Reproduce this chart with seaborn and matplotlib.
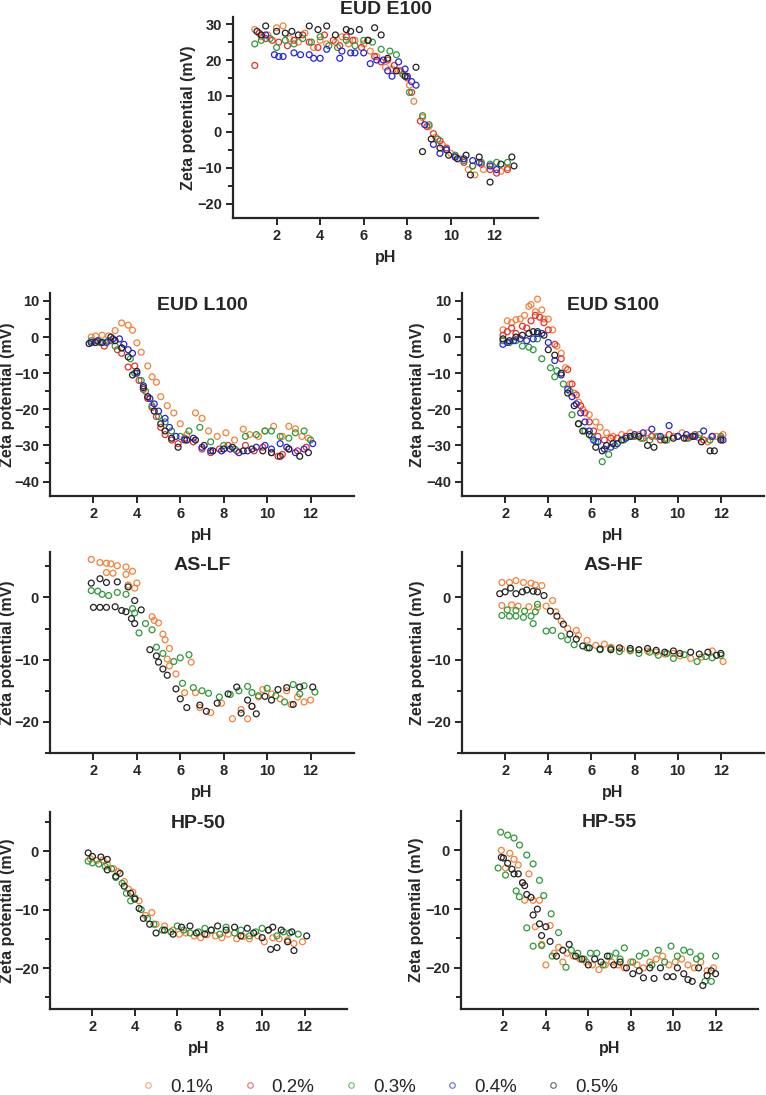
import pandas as pd
import matplotlib
matplotlib.use('Agg')
import matplotlib.pyplot as plt
from matplotlib.lines import Line2D
import seaborn as sns

# concentrations and colours
conc_labels = ['0.1%', '0.2%', '0.3%', '0.4%', '0.5%']
conc_colors = ['#F5813A', '#E8302A', '#2E9A3A', '#2626D9', '#222222']

# ---------------- EUD E100 ----------------
e100_x_01 = [1.0, 1.3, 1.6, 2.0, 2.3, 2.6, 3.0, 3.3, 3.7, 4.0, 4.3, 4.7, 5.0, 5.3, 5.6, 6.0, 6.3, 6.6, 7.0, 7.3, 7.6, 7.9, 8.1, 8.3, 8.7, 9.0, 9.3, 9.6, 10.0, 10.4, 10.8, 11.1, 11.5, 11.9, 12.3, 12.6]
e100_y_01 = [28.5, 26.5, 27.0, 29.0, 29.5, 26.0, 25.0, 27.5, 23.5, 25.5, 24.5, 25.0, 26.5, 24.5, 25.5, 24.5, 22.5, 21.0, 18.0, 17.5, 17.0, 15.5, 13.0, 8.5, 4.0, 1.5, -1.5, -3.5, -6.0, -7.5, -10.5, -12.0, -10.5, -9.5, -11.0, -10.0]
e100_x_02 = [1.0, 1.2, 1.5, 1.8, 2.1, 2.5, 2.8, 3.2, 3.5, 3.9, 4.2, 4.6, 4.9, 5.2, 5.5, 5.9, 6.2, 6.5, 6.8, 7.1, 7.4, 7.7, 8.0, 8.2, 8.6, 8.9, 9.2, 9.5, 9.8, 10.2, 10.6, 11.0, 11.4, 11.8, 12.1, 12.6]
e100_y_02 = [18.5, 27.5, 26.0, 25.5, 25.0, 24.0, 25.5, 27.0, 25.0, 23.5, 27.0, 25.5, 24.0, 26.5, 25.5, 23.5, 25.5, 21.0, 19.5, 20.0, 18.5, 17.0, 15.0, 11.0, 3.0, 1.5, -0.5, -2.5, -4.5, -7.0, -8.5, -9.5, -9.0, -10.5, -11.5, -10.5]
e100_x_03 = [1.0, 1.3, 1.7, 2.0, 2.4, 2.8, 3.2, 3.6, 4.0, 4.4, 4.8, 5.2, 5.6, 6.0, 6.4, 6.8, 7.2, 7.5, 7.8, 8.1, 8.7, 9.0, 9.4, 9.8, 10.2, 10.6, 11.0, 11.4, 11.8, 12.1, 12.6]
e100_y_03 = [24.5, 25.5, 26.0, 23.5, 25.5, 24.5, 26.0, 25.0, 26.5, 24.0, 23.5, 25.5, 24.0, 25.5, 25.0, 23.0, 22.5, 21.5, 16.0, 11.0, 4.5, 2.0, -2.0, -5.0, -6.5, -8.0, -9.5, -8.5, -9.0, -8.5, -8.5]
e100_x_04 = [1.5, 1.9, 2.1, 2.3, 2.8, 3.1, 3.5, 3.7, 4.0, 4.3, 4.9, 5.0, 5.4, 5.6, 6.0, 6.3, 6.6, 6.9, 7.1, 7.3, 7.6, 7.9, 8.0, 8.2, 8.4, 8.8, 9.2, 9.5, 9.8, 10.2, 10.6, 11.0, 11.3, 11.8, 12.1]
e100_y_04 = [27.0, 21.5, 21.0, 21.0, 22.0, 21.5, 21.5, 20.5, 20.5, 23.0, 20.5, 22.5, 22.0, 22.0, 22.0, 19.0, 20.0, 20.0, 17.0, 15.5, 19.5, 17.5, 15.5, 14.0, 13.0, 2.0, -3.5, -6.0, -5.0, -7.0, -7.5, -8.0, -8.5, -9.5, -10.5]
e100_x_05 = [1.1, 1.3, 1.5, 2.0, 2.4, 2.7, 3.0, 3.5, 3.9, 4.3, 4.7, 5.2, 5.4, 5.8, 6.2, 6.5, 6.8, 7.1, 7.5, 7.9, 8.4, 8.7, 9.1, 9.5, 9.9, 10.3, 10.7, 10.9, 11.3, 11.8, 12.3, 12.8, 12.9]
e100_y_05 = [28.0, 27.0, 29.5, 28.0, 27.5, 28.0, 27.0, 29.5, 28.5, 29.5, 27.0, 28.5, 28.0, 28.5, 25.5, 29.0, 27.0, 20.5, 17.0, 15.5, 18.0, -5.5, -2.0, -4.5, -6.5, -7.5, -6.5, -12.0, -7.0, -14.0, -9.0, -7.0, -9.5]

# ---------------- EUD L100 ----------------
l100_x_01 = [1.9, 2.1, 2.4, 2.7, 3.0, 3.3, 3.6, 3.8, 4.0, 4.2, 4.5, 4.7, 4.9, 5.1, 5.4, 5.7, 6.0, 6.3, 6.7, 7.0, 7.3, 7.7, 8.1, 8.5, 8.9, 9.2, 9.6, 9.9, 10.3, 10.7, 11.0, 11.3, 11.6, 11.9]
l100_y_01 = [0.0, 0.3, 0.5, 0.3, 1.8, 3.9, 3.3, 1.9, -1.6, -4.2, -8.0, -11.0, -12.5, -16.5, -19.0, -21.0, -24.0, -27.0, -21.0, -22.5, -26.0, -27.5, -26.5, -28.5, -25.5, -27.0, -27.5, -26.0, -24.7, -27.5, -24.7, -25.4, -27.5, -28.0]
l100_x_02 = [1.9, 2.2, 2.5, 2.8, 3.1, 3.3, 3.6, 3.9, 4.1, 4.3, 4.5, 4.7, 4.9, 5.1, 5.3, 5.6, 5.9, 6.2, 6.6, 7.0, 7.4, 7.8, 8.2, 8.6, 9.0, 9.4, 9.8, 10.2, 10.5, 10.7, 11.0, 11.4, 11.8]
l100_y_02 = [-1.5, -1.2, -2.5, -1.0, -3.5, -4.5, -8.3, -8.0, -12.0, -14.5, -17.0, -19.5, -22.0, -25.0, -27.0, -28.5, -29.5, -28.0, -29.0, -31.0, -32.0, -31.0, -30.0, -31.5, -30.0, -31.5, -30.5, -32.0, -33.0, -32.5, -31.0, -31.5, -30.5]
l100_x_03 = [1.9, 2.3, 2.7, 3.0, 3.3, 3.7, 3.9, 4.2, 4.4, 4.7, 5.0, 5.3, 5.6, 6.0, 6.4, 6.9, 7.4, 8.0, 8.5, 9.0, 9.5, 9.9, 10.2, 10.6, 11.0, 11.3, 11.7, 12.0]
l100_y_03 = [-1.0, -1.5, -1.0, -2.5, -3.0, -6.0, -10.0, -12.0, -15.0, -19.0, -22.0, -23.5, -26.0, -27.5, -26.0, -25.0, -29.0, -30.0, -31.0, -27.5, -27.0, -26.0, -26.0, -27.5, -28.0, -26.5, -26.0, -28.5]
l100_x_04 = [1.9, 2.2, 2.6, 2.9, 3.2, 3.4, 3.6, 3.8, 4.0, 4.3, 4.6, 4.8, 5.0, 5.3, 5.5, 5.8, 6.2, 6.6, 7.0, 7.4, 7.9, 8.3, 8.7, 9.1, 9.5, 9.9, 10.2, 10.6, 10.9, 11.3, 11.7, 12.1]
l100_y_04 = [-1.5, -1.0, -1.5, -0.5, -0.5, -2.0, -3.5, -4.5, -10.0, -13.5, -17.0, -18.5, -20.5, -22.5, -25.0, -27.5, -28.5, -28.0, -30.5, -31.5, -31.5, -31.0, -32.0, -31.5, -30.5, -30.0, -31.0, -29.5, -30.5, -32.0, -31.0, -29.5]
l100_x_05 = [1.8, 2.1, 2.4, 2.8, 3.0, 3.3, 3.6, 3.8, 4.0, 4.3, 4.5, 4.8, 5.1, 5.3, 5.6, 5.9, 6.3, 6.7, 7.1, 7.5, 8.0, 8.4, 8.9, 9.3, 9.8, 10.2, 10.6, 11.0, 11.5, 11.9]
l100_y_05 = [-1.8, -1.5, -1.5, 0.0, -1.0, -3.0, -5.5, -10.5, -9.5, -14.0, -16.5, -20.5, -24.0, -26.0, -28.0, -30.5, -28.5, -28.5, -30.0, -31.5, -31.0, -30.5, -31.5, -31.0, -31.5, -32.0, -33.0, -31.0, -33.0, -32.0]

# ---------------- EUD S100 ----------------
s100_x_01 = [1.9, 2.1, 2.3, 2.5, 2.7, 2.9, 3.1, 3.2, 3.4, 3.5, 3.7, 3.8, 4.0, 4.2, 4.4, 4.6, 4.8, 5.0, 5.2, 5.4, 5.6, 5.9, 6.2, 6.4, 6.7, 7.0, 7.4, 7.8, 8.2, 8.6, 9.0, 9.4, 9.8, 10.2, 10.6, 11.0, 11.4, 11.8, 12.1]
s100_y_01 = [2.0, 4.5, 4.0, 4.8, 5.0, 6.0, 8.5, 9.0, 7.0, 10.5, 7.5, 5.0, 5.0, 2.0, -2.5, -4.5, -8.5, -13.0, -15.5, -18.0, -20.0, -21.5, -23.5, -25.0, -26.5, -27.5, -27.0, -26.5, -27.0, -26.5, -27.5, -28.0, -27.5, -26.5, -27.5, -28.0, -29.0, -27.5, -27.0]
s100_x_02 = [1.9, 2.1, 2.3, 2.5, 2.8, 3.0, 3.2, 3.4, 3.6, 3.8, 4.0, 4.3, 4.6, 4.9, 5.1, 5.3, 5.5, 5.7, 5.9, 6.1, 6.3, 6.6, 6.9, 7.2, 7.6, 8.0, 8.4, 8.8, 9.2, 9.6, 10.0, 10.4, 10.8, 11.2, 11.6, 12.0]
s100_y_02 = [0.5, 1.5, 2.5, 1.0, 3.0, 2.5, 4.5, 6.0, 5.5, 4.0, 2.0, -2.0, -6.0, -9.0, -13.0, -16.0, -19.0, -21.0, -23.5, -26.0, -27.5, -28.5, -28.0, -28.0, -27.5, -27.5, -28.0, -27.5, -28.5, -27.0, -27.5, -28.0, -27.0, -28.5, -27.5, -28.0]
s100_x_03 = [1.9, 2.2, 2.5, 2.8, 3.1, 3.3, 3.5, 3.7, 4.1, 4.3, 4.4, 4.7, 5.0, 5.1, 5.4, 5.7, 6.0, 6.2, 6.5, 6.8, 7.1, 7.5, 7.9, 8.3, 8.7, 9.1, 9.5, 10.0, 10.5, 11.0, 11.5, 12.0]
s100_y_03 = [-1.0, -1.5, -1.0, -2.5, -2.8, -3.5, -0.5, -6.0, -8.5, -11.0, -9.3, -13.0, -15.0, -21.5, -24.0, -26.0, -27.5, -29.0, -34.5, -32.5, -30.0, -28.5, -27.5, -28.0, -28.5, -27.5, -28.5, -27.5, -28.0, -27.0, -28.5, -27.5]
s100_x_04 = [1.9, 2.1, 2.4, 2.7, 3.0, 3.3, 3.5, 3.7, 4.0, 4.3, 4.6, 4.9, 5.1, 5.3, 5.5, 5.7, 5.9, 6.1, 6.3, 6.6, 6.9, 7.2, 7.6, 8.0, 8.4, 8.8, 9.2, 9.6, 10.0, 10.4, 10.8, 11.2, 11.6, 12.1]
s100_y_04 = [-2.0, -1.5, -1.0, -0.5, -1.0, -0.5, 1.0, 1.0, -1.5, -6.5, -10.5, -14.5, -16.5, -18.5, -21.0, -23.5, -26.0, -28.5, -29.0, -31.0, -30.5, -29.5, -28.0, -27.0, -26.5, -25.5, -27.5, -24.5, -27.5, -27.0, -27.5, -26.0, -27.5, -28.5]
s100_x_05 = [1.9, 2.2, 2.5, 2.8, 3.1, 3.3, 3.5, 3.8, 4.0, 4.3, 4.6, 4.9, 5.2, 5.4, 5.6, 5.9, 6.2, 6.5, 6.7, 7.0, 7.4, 7.8, 8.2, 8.6, 8.9, 9.4, 9.8, 10.3, 10.7, 11.1, 11.5, 11.7, 12.0]
s100_y_05 = [-0.5, -1.0, 0.0, 0.5, 1.0, 1.5, 1.5, 0.5, -3.5, -5.0, -10.0, -15.5, -19.0, -24.0, -26.0, -27.0, -30.5, -31.5, -30.0, -29.5, -28.5, -27.5, -27.5, -30.0, -30.5, -28.5, -28.0, -28.0, -27.5, -29.0, -31.5, -31.5, -28.5]

# ---------------- AS-LF ----------------
aslf_x_01 = [1.9, 2.3, 2.6, 2.8, 3.1, 3.5, 3.8, 2.6, 2.9, 3.5, 4.0, 3.9, 3.6, 4.7, 4.8, 5.0, 5.2, 5.3, 5.5, 5.4, 5.5, 6.5, 5.8, 6.2, 6.7, 6.9, 7.4, 7.9, 8.4, 8.8, 9.1, 9.3, 9.6, 9.8, 10.2, 10.6, 10.9, 11.1, 11.4, 11.7, 12.0]
aslf_y_01 = [6.1, 5.6, 5.5, 5.4, 5.1, 4.9, 4.2, 4.0, 3.9, 3.7, 2.3, 1.5, 2.0, -3.1, -3.7, -4.1, -5.9, -6.8, -8.2, -9.9, -11.0, -10.4, -12.3, -15.3, -15.3, -17.7, -18.5, -17.0, -19.5, -18.0, -19.5, -17.5, -16.0, -14.8, -15.5, -16.3, -15.0, -17.2, -16.0, -16.8, -16.5]
aslf_x_03 = [1.9, 2.2, 2.4, 2.7, 3.1, 3.5, 3.8, 3.9, 4.1, 4.4, 4.7, 4.9, 5.2, 5.7, 6.0, 6.4, 6.1, 6.6, 7.0, 7.3, 7.8, 8.3, 8.7, 9.1, 9.3, 9.6, 10.0, 10.4, 10.8, 11.2, 11.5, 11.7, 12.2]
aslf_y_03 = [1.1, 1.0, 0.5, 0.3, 0.8, 0.5, -1.8, -2.5, -5.7, -4.2, -5.2, -8.0, -9.0, -10.3, -9.7, -9.2, -13.8, -14.5, -15.0, -15.4, -16.0, -15.6, -15.0, -14.3, -15.3, -15.8, -14.6, -15.8, -16.8, -14.0, -15.5, -14.2, -15.2]
aslf_x_05 = [1.9, 2.0, 2.3, 2.3, 2.6, 2.6, 3.0, 3.1, 3.3, 3.5, 3.6, 3.9, 4.2, 3.75, 3.9, 4.6, 4.9, 5.0, 5.2, 5.4, 5.8, 6.0, 6.3, 6.9, 7.2, 7.7, 8.2, 8.6, 8.8, 9.1, 9.3, 9.5, 9.9, 10.2, 10.5, 10.9, 11.2, 11.5, 12.1]
aslf_y_05 = [2.3, -1.6, -1.6, 3.0, -1.6, 2.4, -1.5, 2.5, -2.1, -2.3, 1.7, -0.5, -2.0, -3.4, -4.2, -8.4, -9.4, -10.4, -11.5, -12.5, -14.7, -16.3, -17.7, -17.3, -18.3, -17.0, -15.5, -14.4, -18.6, -16.5, -17.5, -18.7, -15.9, -16.5, -14.8, -14.5, -17.2, -14.4, -14.4]

# ---------------- AS-HF ----------------
ashf_x_01 = [1.85, 2.2, 2.5, 2.85, 3.2, 3.4, 3.7, 1.85, 2.3, 2.6, 3.1, 3.5, 3.9, 4.2, 4.35, 4.6, 4.9, 5.3, 5.4, 5.8, 6.2, 6.6, 6.9, 7.4, 7.8, 8.2, 8.6, 9.0, 9.4, 9.8, 10.1, 10.6, 11.1, 11.6, 12.1]
ashf_y_01 = [2.4, 2.4, 2.7, 2.4, 2.3, 2.0, 1.9, -1.3, -1.2, -1.4, -1.5, -1.6, -1.4, -0.5, -2.3, -3.8, -5.0, -5.3, -6.1, -6.9, -7.7, -7.5, -8.0, -8.3, -8.6, -8.4, -8.6, -8.8, -9.1, -9.0, -9.4, -9.8, -9.6, -8.6, -10.3]
ashf_x_03 = [1.85, 2.1, 2.2, 2.5, 2.5, 2.85, 2.9, 3.2, 3.4, 3.5, 3.3, 3.9, 4.2, 4.6, 4.9, 5.2, 5.8, 6.4, 6.9, 7.3, 7.8, 8.2, 8.7, 9.1, 9.5, 9.8, 10.3, 10.9, 11.3, 11.6, 12.0]
ashf_y_03 = [-2.9, -2.0, -3.0, -3.0, -2.1, -3.2, -2.2, -3.0, -2.3, -1.1, -4.2, -5.4, -5.3, -6.2, -6.8, -7.6, -8.1, -8.4, -8.2, -8.7, -8.5, -9.0, -8.8, -9.3, -9.0, -9.8, -9.2, -10.3, -9.5, -9.7, -9.3]
ashf_x_05 = [1.75, 2.0, 2.25, 2.5, 2.8, 3.0, 3.3, 3.5, 3.8, 4.1, 4.4, 4.7, 5.0, 5.3, 5.6, 5.9, 6.4, 6.9, 7.3, 7.8, 8.2, 8.6, 9.0, 9.4, 9.8, 10.1, 10.6, 11.0, 11.4, 11.8, 12.0]
ashf_y_05 = [0.6, 0.9, 1.5, 0.6, 0.9, 1.2, 1.0, 0.9, 0.3, -2.2, -3.0, -4.3, -5.9, -6.7, -7.8, -8.1, -8.3, -8.4, -8.1, -8.2, -8.4, -8.2, -8.5, -8.8, -8.6, -9.0, -8.8, -9.1, -8.8, -9.3, -9.0]

# ---------------- HP-50 ----------------
hp50_x_01 = [1.9, 2.2, 2.5, 2.7, 3.0, 3.2, 3.5, 3.7, 3.9, 4.2, 4.5, 4.8, 5.0, 5.4, 5.8, 6.1, 6.4, 6.8, 7.1, 7.4, 7.8, 8.1, 8.4, 8.8, 9.1, 9.4, 9.8, 10.1, 10.5, 10.8, 11.2, 11.5, 11.9]
hp50_y_01 = [-1.3, -1.6, -1.5, -2.2, -3.0, -3.5, -5.2, -6.5, -7.0, -8.5, -11.0, -10.5, -12.5, -12.8, -13.5, -14.2, -14.0, -14.5, -14.8, -14.3, -14.5, -14.8, -14.2, -15.0, -14.6, -15.0, -14.5, -15.5, -14.8, -15.0, -15.2, -15.8, -15.5]
hp50_x_03 = [1.8, 2.0, 2.3, 2.6, 2.9, 3.1, 3.4, 3.6, 3.8, 4.0, 4.3, 4.6, 4.9, 5.3, 5.7, 6.0, 6.3, 6.6, 7.0, 7.3, 7.6, 8.0, 8.3, 8.7, 9.0, 9.4, 9.7, 10.0, 10.3, 10.7, 11.0, 11.3, 11.7]
hp50_y_03 = [-1.7, -2.0, -2.2, -2.6, -3.0, -4.5, -5.5, -7.2, -8.5, -8.0, -10.0, -11.5, -12.5, -13.5, -13.8, -12.8, -13.5, -14.0, -13.8, -13.2, -13.5, -14.2, -13.0, -14.0, -13.5, -14.5, -13.8, -13.2, -13.5, -14.5, -13.8, -14.0, -14.2]
hp50_x_05 = [1.8, 2.0, 2.4, 2.7, 2.7, 3.1, 3.3, 3.5, 3.8, 4.0, 4.2, 4.4, 4.7, 5.0, 5.4, 5.8, 6.2, 6.6, 6.9, 7.3, 7.6, 7.9, 8.3, 8.7, 9.0, 9.3, 9.6, 10.0, 10.3, 10.4, 10.5, 10.7, 10.9, 11.2, 11.4, 11.5, 12.1]
hp50_y_05 = [-0.3, -0.9, -1.0, -1.4, -3.2, -4.3, -3.8, -6.0, -7.2, -8.2, -9.8, -11.5, -12.5, -14.0, -13.5, -14.2, -13.0, -12.8, -14.0, -14.2, -13.5, -12.8, -13.5, -13.0, -14.5, -13.2, -14.0, -14.8, -13.5, -16.8, -13.0, -16.5, -13.5, -15.5, -13.8, -17.0, -14.5]

# ---------------- HP-55 ----------------
hp55_x_01 = [1.9, 2.1, 2.3, 2.5, 2.7, 2.9, 3.0, 3.2, 3.4, 3.5, 3.7, 3.8, 4.0, 4.2, 4.4, 4.6, 4.8, 5.0, 5.3, 5.6, 5.9, 6.2, 6.5, 6.8, 7.1, 7.4, 7.7, 8.0, 8.3, 8.6, 8.9, 9.2, 9.5, 9.8, 10.1, 10.4, 10.7, 11.0, 11.3, 11.6, 11.9]
hp55_y_01 = [0.0, -3.0, -0.5, -1.5, -2.5, -5.5, -8.5, -4.0, -8.5, -13.0, -8.5, -16.0, -19.5, -12.8, -17.5, -16.5, -19.0, -17.5, -18.0, -18.5, -19.0, -19.5, -20.3, -19.5, -19.0, -19.5, -20.0, -19.0, -19.5, -20.0, -19.0, -18.5, -18.0, -19.5, -19.0, -18.5, -19.5, -20.0, -19.0, -20.5, -20.0]
hp55_x_03 = [1.75, 1.87, 2.1, 2.2, 2.5, 2.6, 2.75, 2.76, 3.1, 3.1, 3.4, 3.4, 3.7, 3.8, 3.9, 4.25, 4.6, 4.3, 4.95, 5.2, 5.5, 5.8, 6.1, 6.4, 6.7, 7.0, 7.3, 7.5, 7.7, 8.1, 8.4, 8.7, 9.0, 9.3, 9.6, 9.9, 10.2, 10.5, 10.8, 11.1, 11.3, 11.5, 11.8, 12.0]
hp55_y_03 = [-3.0, 3.1, -4.2, 2.6, 2.1, -6.9, -7.9, 0.9, -0.8, -13.2, -2.3, -16.3, -5.1, -16.2, -7.7, -10.8, -14.0, -18.0, -19.9, -17.0, -17.5, -18.5, -17.5, -17.5, -19.5, -18.0, -17.5, -18.5, -16.6, -19.0, -18.0, -17.5, -19.5, -17.0, -19.0, -16.3, -18.0, -17.0, -17.3, -18.5, -18.0, -22.3, -22.3, -18.0]
hp55_x_05 = [1.9, 2.0, 2.2, 2.4, 2.5, 2.7, 2.9, 3.0, 3.1, 3.3, 3.4, 3.6, 3.7, 3.8, 4.0, 4.2, 4.5, 4.8, 5.1, 5.4, 5.7, 6.0, 6.3, 6.6, 6.9, 7.2, 7.5, 7.8, 8.1, 8.4, 8.6, 8.9, 9.1, 9.4, 9.7, 10.0, 10.2, 10.5, 10.7, 10.9, 11.2, 11.4, 11.6, 11.8, 12.0]
hp55_y_05 = [-1.2, -1.3, -2.2, -3.2, -4.0, -4.0, -5.5, -6.0, -7.5, -8.0, -11.0, -10.0, -12.5, -14.5, -13.0, -15.5, -18.0, -17.0, -16.0, -18.0, -18.5, -19.5, -18.5, -19.0, -18.0, -19.5, -19.0, -20.0, -21.0, -20.5, -21.7, -20.0, -21.8, -20.0, -21.5, -21.5, -20.0, -21.0, -22.0, -22.3, -20.0, -23.0, -21.3, -20.5, -21.0]

sns.set_style('ticks')
plt.rcParams['font.family'] = ['Liberation Sans', 'DejaVu Sans']

W, H = 766, 1095
fig = plt.figure(figsize=(W / 100, H / 100), dpi=100)


def add_axes_px(left, right, top, bottom):
    return fig.add_axes([left / W, 1 - bottom / H, (right - left) / W, (bottom - top) / H])


def draw_panel(ax, series, title, ylim, major, minor, title_y, ylab_x):
    frames = []
    for label, xs, ys in series:
        frames.append(pd.DataFrame({'pH': xs, 'zeta': ys, 'conc': label}))
    df = pd.concat(frames, ignore_index=True)
    pal = {l: c for l, c in zip(conc_labels, conc_colors)}
    sns.scatterplot(data=df, x='pH', y='zeta', hue='conc', palette=pal,
                    s=18, linewidth=0.9, legend=False, ax=ax)
    # open circles
    pts = ax.collections[-1]
    pts.set_edgecolors(pts.get_facecolors())
    pts.set_facecolors('none')

    ax.set_xlim(0, 14)
    ax.set_ylim(*ylim)
    ax.set_xticks(range(2, 13, 2))
    ax.set_yticks(major)
    ax.set_yticks(minor, minor=True)
    for s in ['top', 'right']:
        ax.spines[s].set_visible(False)
    for s in ['left', 'bottom']:
        ax.spines[s].set_linewidth(1.6)
    ax.tick_params(axis='both', which='major', length=5, width=1.4, labelsize=10.5, pad=3)
    ax.tick_params(axis='y', which='minor', length=3.5, width=1.4)
    for lab in ax.get_xticklabels() + ax.get_yticklabels():
        lab.set_fontweight('bold')
    ax.set_xlabel('pH', fontsize=11.5, fontweight='bold', labelpad=5)
    ax.set_ylabel('Zeta potential (mV)', fontsize=11.5, fontweight='bold')
    ax.yaxis.set_label_coords(ylab_x, 0.5)
    ax.text(0.5, title_y, title, transform=ax.transAxes, ha='center', va='center',
            fontsize=14, fontweight='bold')


# EUD E100
ax = add_axes_px(233, 538, 17, 218)
draw_panel(ax, [('0.1%', e100_x_01, e100_y_01), ('0.2%', e100_x_02, e100_y_02),
                ('0.3%', e100_x_03, e100_y_03), ('0.4%', e100_x_04, e100_y_04),
                ('0.5%', e100_x_05, e100_y_05)],
           'EUD E100', (-24, 32), range(-20, 31, 10), range(-15, 30, 10), 1.035, -0.12)

# EUD L100 / S100
ax = add_axes_px(50, 354, 293, 496)
draw_panel(ax, [('0.1%', l100_x_01, l100_y_01), ('0.2%', l100_x_02, l100_y_02),
                ('0.3%', l100_x_03, l100_y_03), ('0.4%', l100_x_04, l100_y_04),
                ('0.5%', l100_x_05, l100_y_05)],
           'EUD L100', (-44, 12.2), range(-40, 11, 10), range(-35, 10, 10), 0.94, -0.115)
ax = add_axes_px(462, 764, 293, 496)
draw_panel(ax, [('0.1%', s100_x_01, s100_y_01), ('0.2%', s100_x_02, s100_y_02),
                ('0.3%', s100_x_03, s100_y_03), ('0.4%', s100_x_04, s100_y_04),
                ('0.5%', s100_x_05, s100_y_05)],
           'EUD S100', (-44, 12.2), range(-40, 11, 10), range(-35, 10, 10), 0.94, -0.123)

# AS-LF / AS-HF
ax = add_axes_px(50, 354, 552, 753)
draw_panel(ax, [('0.1%', aslf_x_01, aslf_y_01), ('0.3%', aslf_x_03, aslf_y_03),
                ('0.5%', aslf_x_05, aslf_y_05)],
           'AS-LF', (-25, 7.3), [-20, -10, 0], [-25, -15, -5, 5], 0.935, -0.115)
ax = add_axes_px(462, 764, 552, 753)
draw_panel(ax, [('0.1%', ashf_x_01, ashf_y_01), ('0.3%', ashf_x_03, ashf_y_03),
                ('0.5%', ashf_x_05, ashf_y_05)],
           'AS-HF', (-25, 7.3), [-20, -10, 0], [-25, -15, -5, 5], 0.935, -0.123)

# HP-50 / HP-55
ax = add_axes_px(50, 347, 812, 1009)
draw_panel(ax, [('0.1%', hp50_x_01, hp50_y_01), ('0.3%', hp50_x_03, hp50_y_03),
                ('0.5%', hp50_x_05, hp50_y_05)],
           'HP-50', (-27, 6.7), [-20, -10, 0], [-25, -15, -5, 5], 0.944, -0.118)
ax = add_axes_px(461, 758, 811, 1009)
draw_panel(ax, [('0.1%', hp55_x_01, hp55_y_01), ('0.3%', hp55_x_03, hp55_y_03),
                ('0.5%', hp55_x_05, hp55_y_05)],
           'HP-55', (-27, 6.7), [-20, -10, 0], [-25, -15, -5, 5], 0.944, -0.125)

# shared legend at the bottom
handles = [Line2D([], [], marker='o', linestyle='none', markerfacecolor='none',
                  markeredgecolor=c, markersize=4, markeredgewidth=0.8, alpha=0.7)
           for c in conc_colors]
fig.legend(handles, conc_labels, ncol=5, loc='center',
           bbox_to_anchor=(378.6 / W, 1 - 1087 / H), frameon=False,
           handlelength=1, handletextpad=0.67, columnspacing=1.45,
           borderpad=0, borderaxespad=0, fontsize=13.5)

fig.savefig('out.png', dpi=100)
